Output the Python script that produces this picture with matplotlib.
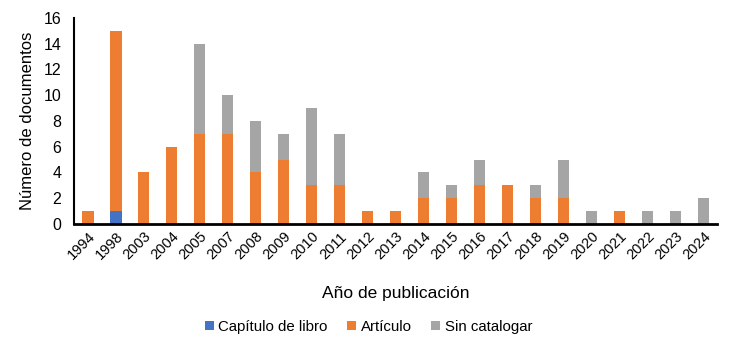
import matplotlib
matplotlib.use("Agg")
import matplotlib.pyplot as plt
import numpy as np

plt.rcParams['font.family'] = ['Liberation Sans', 'DejaVu Sans']

years = ["1994", "1998", "2003", "2004", "2005", "2007", "2008", "2009", "2010", "2011",
         "2012", "2013", "2014", "2015", "2016", "2017", "2018", "2019", "2020", "2021",
         "2022", "2023", "2024"]
capitulo = [0, 1, 0, 0, 0, 0, 0, 0, 0, 0, 0, 0, 0, 0, 0, 0, 0, 0, 0, 0, 0, 0, 0]
articulo = [1, 14, 4, 6, 7, 7, 4, 5, 3, 3, 1, 1, 2, 2, 3, 3, 2, 2, 0, 1, 0, 0, 0]
sin_cat = [0, 0, 0, 0, 7, 3, 4, 2, 6, 4, 0, 0, 2, 1, 2, 0, 1, 3, 1, 0, 1, 1, 2]

fig = plt.figure(figsize=(7.37, 3.51), dpi=100)
ax = fig.add_axes([0.1004, 0.362, 0.8726, 0.587])

x = np.arange(len(years))
w = 0.4
c1, c2, c3 = "#4472C4", "#ED7D31", "#A5A5A5"
cap = np.array(capitulo)
art = np.array(articulo)
sc = np.array(sin_cat)
ax.bar(x, cap, w, color=c1, label="Capítulo de libro", zorder=2)
ax.bar(x, art, w, bottom=cap, color=c2, label="Artículo", zorder=2)
ax.bar(x, sc, w, bottom=cap + art, color=c3, label="Sin catalogar", zorder=2)

ax.set_xlim(-0.5, len(years) - 0.5)
ax.set_ylim(0, 16)
ax.set_yticks(range(0, 17, 2))
ax.set_xticks(x)
ax.set_xticklabels(years, rotation=45, ha="right", rotation_mode="anchor", fontsize=10.5)
ax.tick_params(axis="y", labelsize=11.5, length=0, pad=9)
ax.tick_params(axis="x", length=0, pad=4)

for s in ["top", "right"]:
    ax.spines[s].set_visible(False)
ax.spines["left"].set_linewidth(1.5)
ax.spines["bottom"].set_linewidth(2)

ax.set_ylabel("Número de documentos", fontsize=12, labelpad=6)
ax.set_xlabel("Año de publicación", fontsize=12.5, labelpad=17)

fig.legend(loc="lower center", bbox_to_anchor=(0.5, 0.01), ncol=3, frameon=False,
           fontsize=10.8, handlelength=0.6, handleheight=0.6, handletextpad=0.3,
           columnspacing=1.3)

fig.savefig("out.png", dpi=100)
